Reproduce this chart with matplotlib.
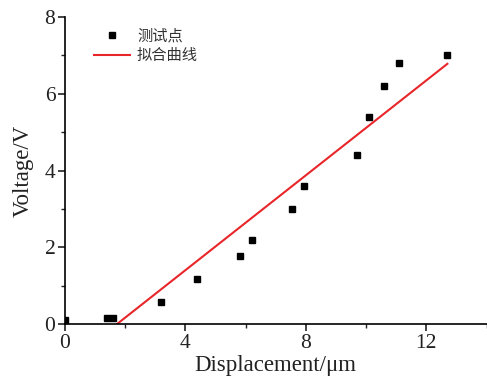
import matplotlib
matplotlib.use("Agg")
import matplotlib.pyplot as plt
from matplotlib.ticker import MultipleLocator

# data
disp = [0.0, 1.4, 1.6, 3.2, 4.4, 5.8, 6.2, 7.55, 7.95, 9.7, 10.1, 10.6, 11.1, 12.7]
volt = [0.1, 0.15, 0.15, 0.58, 1.18, 1.78, 2.18, 3.0, 3.6, 4.4, 5.4, 6.2, 6.8, 7.0]
fit_x = [1.73, 12.7]
fit_y = [0.0, 6.78]

x_ticks = [0, 4, 8, 12]
y_ticks = [0, 2, 4, 6, 8]
legend_labels = ["测试点", "拟合曲线"]

serif = ["Liberation Serif", "DejaVu Serif"]

fig = plt.figure(figsize=(4.87, 3.80), dpi=100)
ax = fig.add_axes([65/487, 56/380, 1 - 65/487 - 0.001, (324-17)/380])

ax.plot(disp, volt, linestyle="none", marker="s", color="black", markersize=5,
        label=legend_labels[0], clip_on=True)
ax.plot(fit_x, fit_y, color="#e8262a", linewidth=1.5, label=legend_labels[1])

ax.set_xlim(0, 14)
ax.set_ylim(0, 8)
ax.set_xticks(x_ticks)
ax.set_yticks(y_ticks)
ax.xaxis.set_minor_locator(MultipleLocator(2))
ax.yaxis.set_minor_locator(MultipleLocator(1))

for s in ["top", "right"]:
    ax.spines[s].set_visible(False)
for s in ["left", "bottom"]:
    ax.spines[s].set_linewidth(1.2)

ax.tick_params(which="major", direction="out", length=5, width=1.2, labelsize=15.5, pad=2,
               colors="#222222")
ax.tick_params(which="minor", direction="out", length=3, width=1.0, colors="#222222")
for lab in ax.get_xticklabels() + ax.get_yticklabels():
    lab.set_fontfamily(serif)

ax.set_xlabel("Displacement/μm", fontsize=16.5, family=serif, labelpad=2, color="#222222")
ax.set_ylabel("Voltage/V", fontsize=16.5, family=serif, labelpad=8, color="#222222")

leg = ax.legend(loc="upper left", bbox_to_anchor=(0.035, 1.01), frameon=False,
                prop={"family": ["Noto Sans CJK SC", "DejaVu Sans"], "size": 11},
                handlelength=2.4, handletextpad=0.45, labelspacing=0.15)
for t in leg.get_texts():
    t.set_color("#333333")

fig.savefig("out.png", dpi=100)
